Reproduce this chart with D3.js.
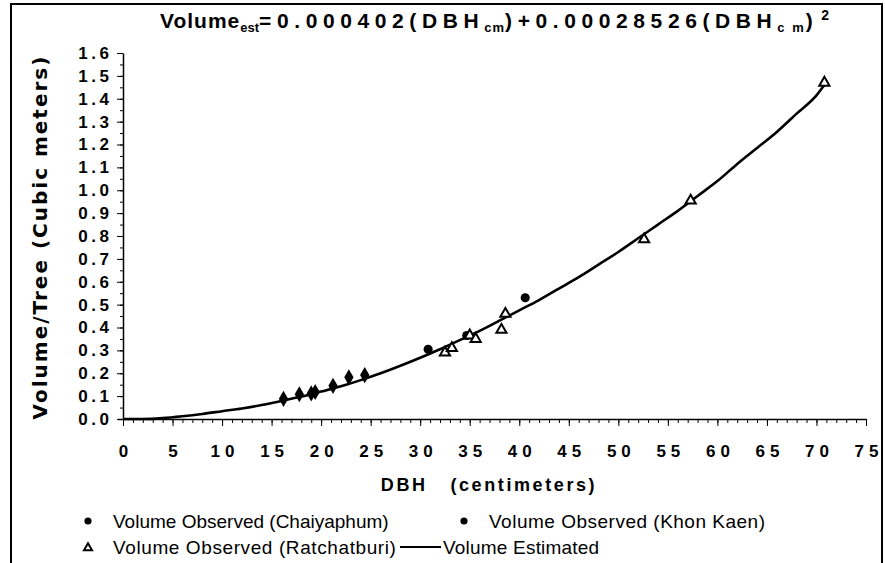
<!DOCTYPE html>
<html>
<head>
<meta charset="utf-8">
<script src="https://cdn.jsdelivr.net/npm/d3@7"></script>
<style>
  body { margin: 0; background: #fff; }
  svg { display: block; }
  .tick text { font-family: "Liberation Sans", Arial, sans-serif; fill: #000; }
</style>
</head>
<body>
<div id="chart"></div>
<script>
// observed volumes per tree
var chaiyaphumDbh = [16.2, 17.8, 19.0, 19.4, 21.2, 22.8, 24.4];
var chaiyaphumVol = [0.088, 0.108, 0.112, 0.118, 0.145, 0.182, 0.192];
var khonKaenDbh = [30.8, 34.7, 40.6];
var khonKaenVol = [0.305, 0.365, 0.53];
var ratchDbh = [32.5, 33.2, 35.0, 35.6, 38.2, 38.6, 52.6, 57.3, 70.8];
var ratchVol = [0.29, 0.31, 0.365, 0.35, 0.39, 0.46, 0.785, 0.955, 1.47];
// estimated curve
var estDbh = [0, 2, 4, 6, 8, 10, 12, 14, 16, 18, 20, 22, 24, 26, 28, 30, 32, 34, 36, 38,
              40, 42, 44, 46, 48, 50, 52, 54, 56, 58, 60, 62, 64, 66, 68, 70, 70.8];
var estVol = [0, 0, 0.004, 0.012, 0.022, 0.034, 0.046, 0.061, 0.079, 0.098, 0.12, 0.143,
              0.17, 0.2, 0.233, 0.268, 0.305, 0.345, 0.385, 0.43, 0.475, 0.52, 0.57, 0.62,
              0.675, 0.73, 0.79, 0.85, 0.91, 0.975, 1.04, 1.115, 1.185, 1.255, 1.335, 1.415, 1.46];
var xTicks = [0, 5, 10, 15, 20, 25, 30, 35, 40, 45, 50, 55, 60, 65, 70, 75];
var yTicks = [0, 0.1, 0.2, 0.3, 0.4, 0.5, 0.6, 0.7, 0.8, 0.9, 1.0, 1.1, 1.2, 1.3, 1.4, 1.5, 1.6];
var legendLabels = ["Volume Observed (Chaiyaphum)", "Volume Observed (Khon Kaen)",
                    "Volume Observed (Ratchatburi)", "Volume Estimated"];

var width = 885, height = 563;
var svg = d3.select("#chart").append("svg")
    .attr("width", width)
    .attr("height", height);

// page frame
svg.append("path")
    .attr("d", "M11,563 V4 H882 V563")
    .attr("fill", "none")
    .attr("stroke", "#000")
    .attr("stroke-width", 2);

var x = d3.scaleLinear().domain([0, 75]).range([123, 866]);
var y = d3.scaleLinear().domain([0, 1.6]).range([419, 53]);

// minor ticks
svg.append("g")
    .attr("transform", "translate(0," + y(0) + ")")
    .call(d3.axisBottom(x).tickValues(d3.range(0, 76)).tickSize(4).tickFormat(""))
    .call(g => g.select(".domain").remove());
svg.append("g")
    .attr("transform", "translate(" + x(0) + ",0)")
    .call(d3.axisLeft(y).tickValues(d3.range(0, 1.61, 0.05)).tickSize(3).tickFormat(""))
    .call(g => g.select(".domain").remove());

// main axes
var xAxis = svg.append("g")
    .attr("transform", "translate(0," + y(0) + ")")
    .call(d3.axisBottom(x).tickValues(xTicks).tickSize(7).tickSizeOuter(0).tickPadding(19));
xAxis.select(".domain").attr("d", "M118,0.5H866.5").attr("stroke-width", 1.5);
xAxis.selectAll(".tick text")
    .attr("font-size", 17).attr("font-weight", "bold")
    .attr("letter-spacing", 5).attr("dx", 2.5);

var yAxis = svg.append("g")
    .attr("transform", "translate(" + x(0) + ",0)")
    .call(d3.axisLeft(y).tickValues(yTicks).tickSize(6).tickSizeOuter(0).tickPadding(8)
        .tickFormat(d3.format(".1f")));
yAxis.select(".domain").attr("stroke-width", 1.5);
yAxis.selectAll(".tick text")
    .attr("font-size", 17).attr("font-weight", "bold")
    .attr("letter-spacing", 3.5).attr("dx", 3.5);

// title with sub/superscripts
var title = svg.append("text")
    .attr("x", 160).attr("y", 28)
    .attr("font-family", "Liberation Sans, Arial, sans-serif")
    .attr("font-weight", "bold")
    .attr("font-size", 21)
    .attr("letter-spacing", 5.6);
title.append("tspan").attr("letter-spacing", 1).text("Volume");
title.append("tspan").attr("font-size", 13).attr("dy", 4).attr("letter-spacing", 0).text("est");
title.append("tspan").attr("dy", -4).text("=0.000402(DBH");
title.append("tspan").attr("font-size", 13).attr("dy", 4).attr("letter-spacing", 1).text("cm");
title.append("tspan").attr("dy", -4).text(")+0.00028526(DBH");
title.append("tspan").attr("font-size", 13).attr("dy", 4).attr("letter-spacing", 2).text("c m");
title.append("tspan").attr("dy", -4).text(")");
title.append("tspan").attr("font-size", 14).attr("dy", -8).attr("dx", 3).text("2");

// axis titles
svg.append("text")
    .attr("transform", "translate(47,237) rotate(-90)")
    .attr("text-anchor", "middle")
    .attr("font-family", "DejaVu Sans, sans-serif")
    .attr("font-weight", "bold")
    .attr("font-size", 20)
    .attr("letter-spacing", 2)
    .text("Volume/Tree (Cubic meters)");

svg.append("text")
    .attr("x", 489).attr("y", 491)
    .attr("text-anchor", "middle")
    .attr("font-family", "Liberation Sans, Arial, sans-serif")
    .attr("font-weight", "bold")
    .attr("font-size", 18)
    .attr("letter-spacing", 2.6)
    .attr("xml:space", "preserve")
    .text("DBH   (centimeters)");

// estimated curve
var line = d3.line().x(d => x(d[0])).y(d => y(d[1])).curve(d3.curveMonotoneX);
svg.append("path")
    .datum(d3.zip(estDbh, estVol))
    .attr("d", line)
    .attr("fill", "none")
    .attr("stroke", "#000")
    .attr("stroke-width", 2.6);

var diamond = d3.symbol().type(d3.symbolDiamond).size(75);
var circle = d3.symbol().type(d3.symbolCircle).size(65);
var triangle = d3.symbol().type(d3.symbolTriangle).size(45);

svg.append("g").selectAll("path")
    .data(d3.zip(chaiyaphumDbh, chaiyaphumVol))
    .join("path")
    .attr("transform", d => "translate(" + x(d[0]) + "," + y(d[1]) + ")")
    .attr("d", diamond)
    .attr("fill", "#000");

svg.append("g").selectAll("path")
    .data(d3.zip(khonKaenDbh, khonKaenVol))
    .join("path")
    .attr("transform", d => "translate(" + x(d[0]) + "," + y(d[1]) + ")")
    .attr("d", circle)
    .attr("fill", "#000");

svg.append("g").selectAll("path")
    .data(d3.zip(ratchDbh, ratchVol))
    .join("path")
    .attr("transform", d => "translate(" + x(d[0]) + "," + y(d[1]) + ")")
    .attr("d", triangle)
    .attr("fill", "#fff")
    .attr("stroke", "#000")
    .attr("stroke-width", 2);

// legend
var legendPos = [[88, 521], [464, 521], [88, 547], [400, 547]];
var legendSpacing = [0, 0.5, 0.6, 0.2];
var legend = svg.append("g")
    .attr("font-family", "Liberation Sans, Arial, sans-serif")
    .attr("font-size", 19);
legendLabels.forEach(function(label, i) {
    var p = legendPos[i];
    if (i == 0 || i == 1) {
        legend.append("path")
            .attr("transform", "translate(" + p[0] + "," + p[1] + ")")
            .attr("d", d3.symbol().type(d3.symbolCircle).size(40))
            .attr("fill", "#000");
    } else if (i == 2) {
        legend.append("path")
            .attr("transform", "translate(" + p[0] + "," + (p[1] + 1) + ")")
            .attr("d", d3.symbol().type(d3.symbolTriangle).size(28))
            .attr("fill", "#fff").attr("stroke", "#000").attr("stroke-width", 2);
    } else {
        legend.append("line")
            .attr("x1", p[0]).attr("x2", p[0] + 41)
            .attr("y1", p[1]).attr("y2", p[1])
            .attr("stroke", "#000").attr("stroke-width", 1.8);
    }
    legend.append("text")
        .attr("x", i == 3 ? p[0] + 43 : p[0] + 25)
        .attr("y", p[1] + 7)
        .attr("letter-spacing", legendSpacing[i])
        .text(label);
});
</script>
</body>
</html>
